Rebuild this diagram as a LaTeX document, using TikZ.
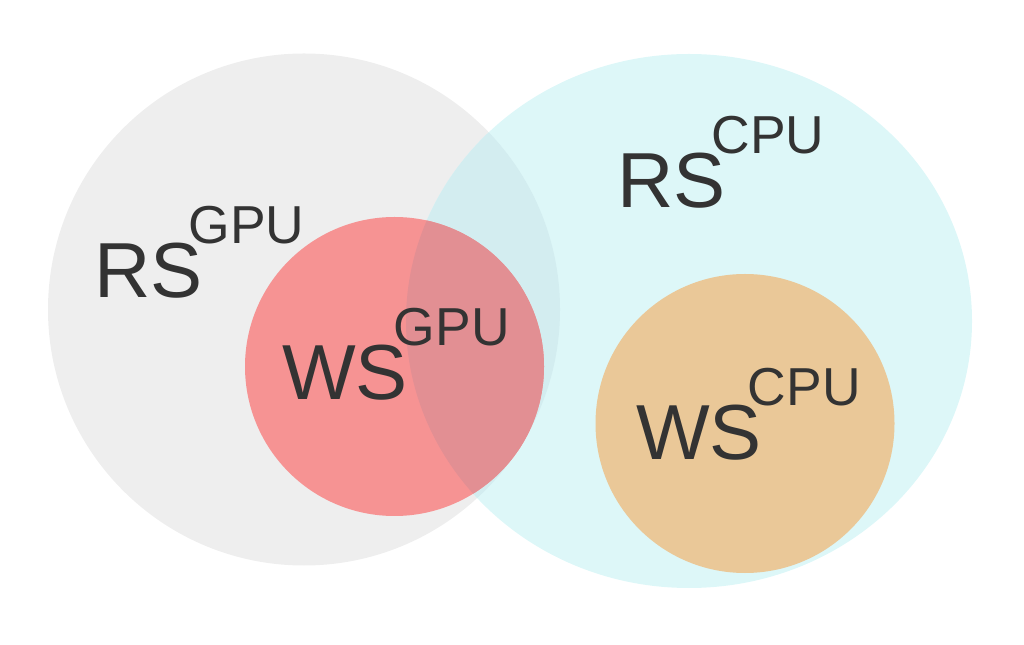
\documentclass[tikz,border=0pt]{standalone}
\usepackage{fontspec}
\setmainfont{Liberation Sans}
\usepackage{xcolor}
\definecolor{rsgpufill}{HTML}{EEEEEE}
\definecolor{rscpufill}{HTML}{DDF7F8}
\definecolor{rsboth}{HTML}{D3EDF0}
\definecolor{wsgpufill}{HTML}{F69393}
\definecolor{wsmix}{HTML}{E28F93}
\definecolor{wscpufill}{HTML}{EAC898}
\definecolor{ink}{HTML}{333333}
\newcommand{\hwtag}[1]{\kern-0.18em\raisebox{0.7em}{\fontsize{38}{38}\selectfont #1}}
\newcommand{\cpuset}{(689,323) ellipse[x radius=283, y radius=267]}

\begin{document}
\begin{tikzpicture}[
    x=0.025cm, y=0.025cm,
    setlbl/.style={anchor=base west, inner sep=0pt, text=ink,
                   font=\fontsize{55.5}{55.5}\selectfont}
  ]
    \useasboundingbox (0,0) rectangle (1024,644);

    % resident sets
    \fill[rsgpufill] (304,334.5) circle[radius=256];
    \fill[rscpufill] \cpuset;
    \begin{scope}
      \clip \cpuset;
      \fill[rsboth] (304,334.5) circle[radius=256];
    \end{scope}

    % working sets
    \fill[wsgpufill] (394.5,277.5) circle[radius=149.5];
    \begin{scope}
      \clip \cpuset;
      \fill[wsmix] (394.5,277.5) circle[radius=149.5];
    \end{scope}
    \fill[wscpufill] (745,220.5) circle[radius=149.5];

    \node[setlbl] (rsgpu) at (94,346) {RS\hwtag{GPU}};
    \node[setlbl] (rscpu) at (617,436) {RS\hwtag{CPU}};
    \node[setlbl] (wsgpu) at (282,244) {WS\hwtag{GPU}};
    \node[setlbl] (wscpu) at (636,184) {WS\hwtag{CPU}};
  \end{tikzpicture}
\end{document}
